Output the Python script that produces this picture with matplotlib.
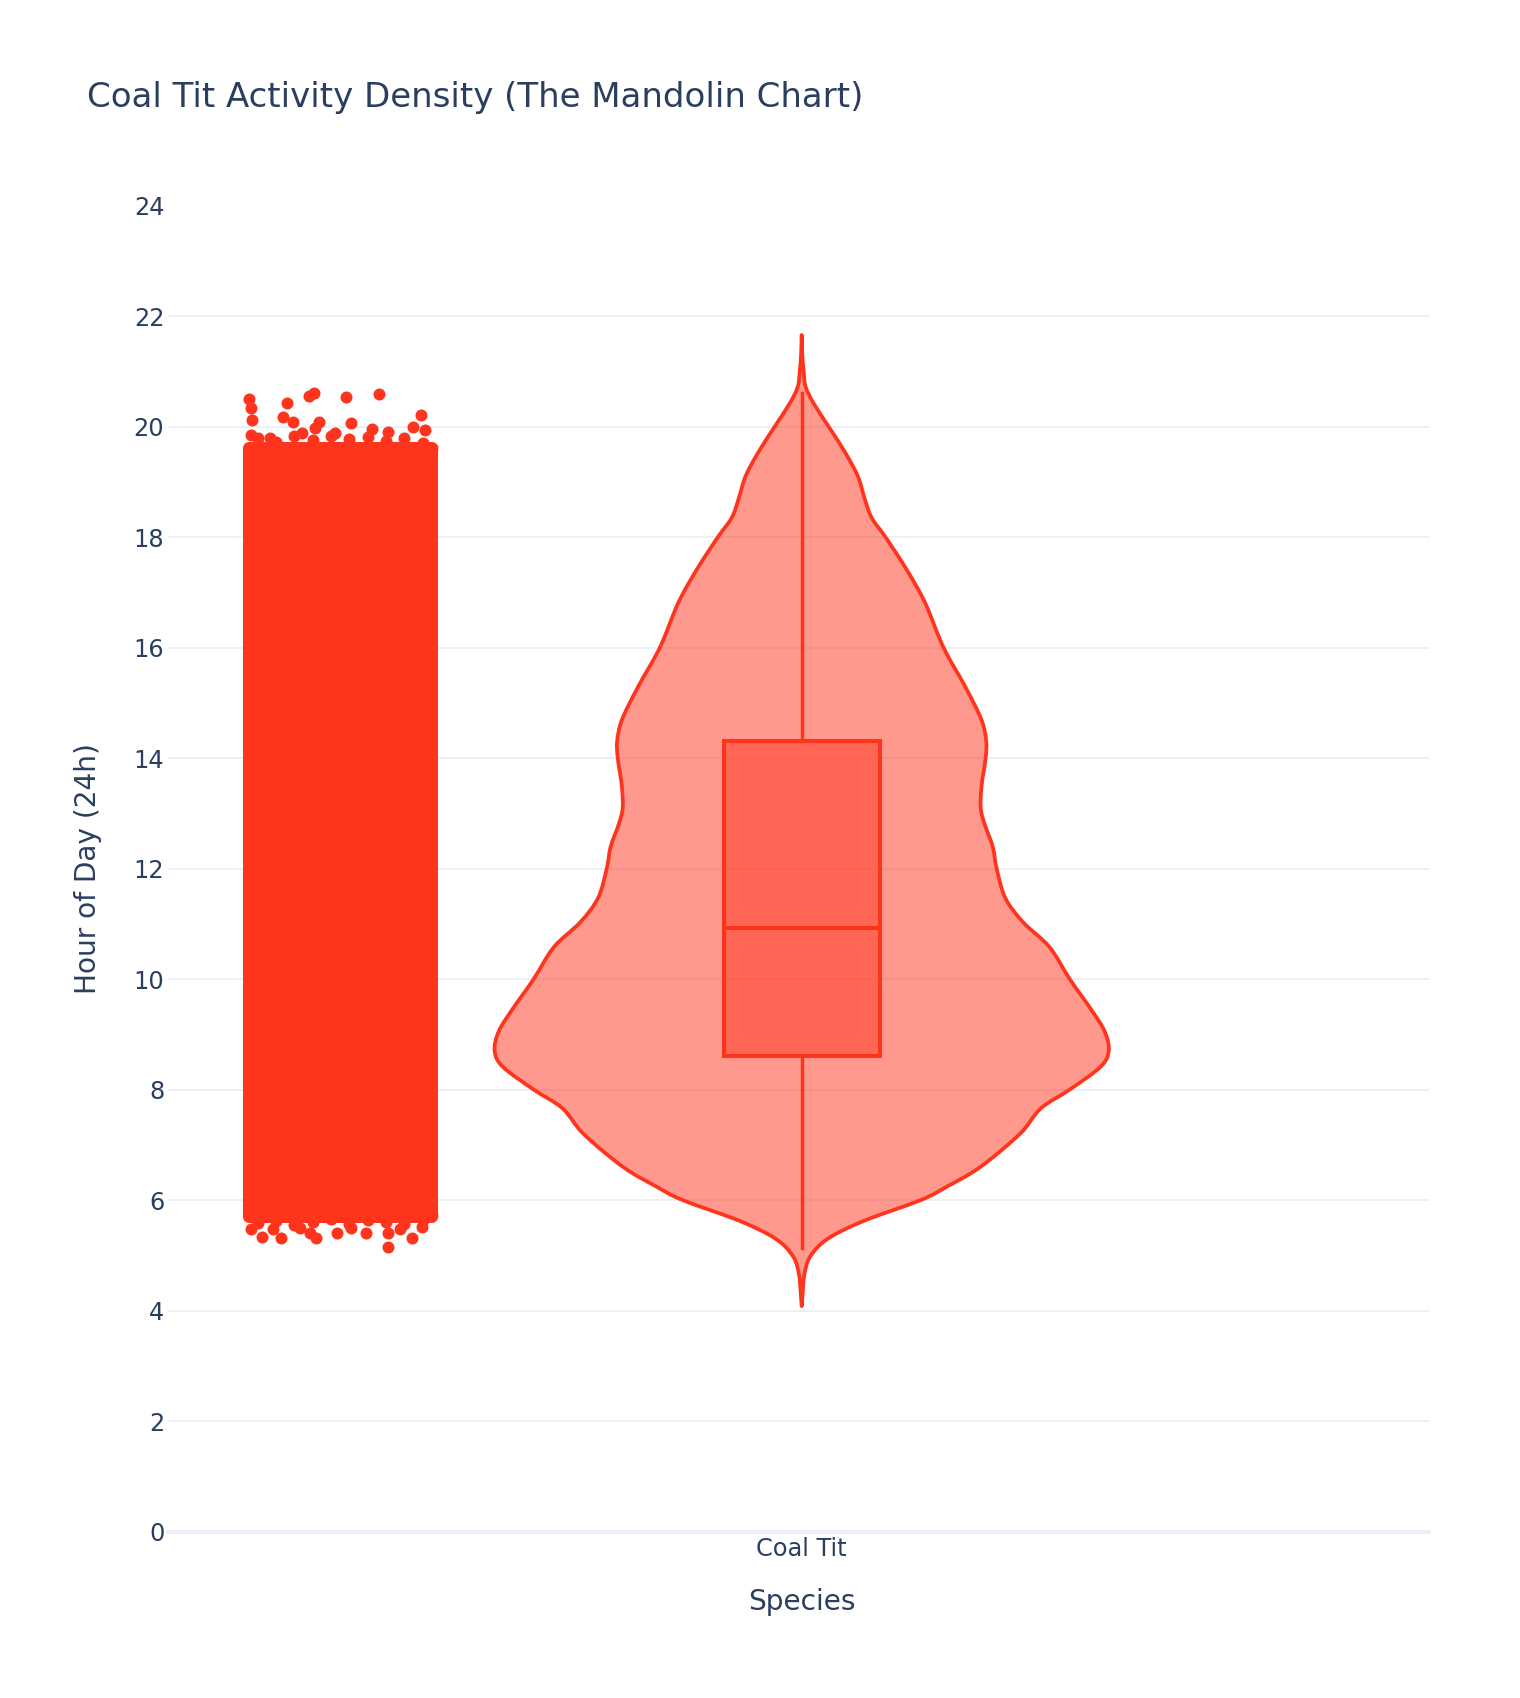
import numpy as np
import matplotlib
matplotlib.use("Agg")
import matplotlib.pyplot as plt
from matplotlib.patches import Rectangle, PathPatch
from matplotlib.path import Path

# ---------------- data ----------------
species = ["Coal Tit"]
y_ticks = [0, 2, 4, 6, 8, 10, 12, 14, 16, 18, 20, 22, 24]

# violin (KDE) profile: hour -> relative density (max = 1)
violin_hours = [4.08, 4.30, 4.66, 4.98, 5.30, 5.62, 6.00, 6.24, 6.60, 7.20, 7.66, 8.00,
                8.41, 8.70, 9.05, 9.43, 10.00, 10.58, 11.03, 11.47, 12.00, 12.40,
                12.80, 13.10, 13.50, 14.00, 14.31, 14.70, 15.30, 16.00, 16.81, 17.41,
                18.00, 18.35, 18.70, 19.10, 19.52, 20.00, 20.42, 20.72, 21.02, 21.30, 21.66]
violin_density = [0.000, 0.003, 0.009, 0.028, 0.085, 0.201, 0.388, 0.472, 0.582, 0.711,
                  0.779, 0.873, 0.973, 1.000, 0.987, 0.945, 0.873, 0.807, 0.721, 0.663,
                  0.635, 0.622, 0.596, 0.583, 0.586, 0.599, 0.601, 0.585, 0.532, 0.462,
                  0.402, 0.342, 0.273, 0.228, 0.205, 0.183, 0.143, 0.088, 0.039, 0.013,
                  0.006, 0.002, 0.000]

# box statistics
q1, median, q3 = 8.60, 10.92, 14.31
whisker_low, whisker_high = 5.14, 20.61

# observations: dense core of the strip (hours) and the sparse fringe points
core_low, core_high = 5.70, 19.62
fringe_hours = [20.50, 20.33, 20.12, 20.42, 20.18, 20.56, 20.61, 20.53, 20.59, 20.22,
                20.07, 20.09, 20.09, 19.95, 19.99, 19.94, 19.89, 19.85, 19.79, 19.88,
                19.91, 19.97,
                19.80, 19.72, 19.83, 19.76, 19.84, 19.78, 19.82, 19.74, 19.80, 19.70, 19.62,
                5.15, 5.32, 5.34, 5.32, 5.32, 5.40, 5.41, 5.40, 5.47, 5.52, 5.49, 5.40,
                5.49, 5.47, 5.47, 5.73,
                5.58, 5.62, 5.55, 5.60, 5.66, 5.57, 5.63, 5.60, 5.56, 5.64]
fringe_jitter = [-1.00, -0.97, -0.96, -0.58, -0.62, -0.34, -0.29, 0.06, 0.42, 0.88,
                 0.12, -0.23, -0.52, 0.35, 0.79, 0.92, -0.06, -0.97, -0.77, -0.42,
                 0.52, -0.28,
                 -0.90, -0.70, -0.50, -0.30, -0.10, 0.10, 0.30, 0.50, 0.70, 0.90, 1.00,
                 0.52, 0.78, -0.85, -0.65, -0.26, -0.04, 0.28, 0.52, -0.97, 0.89, -0.44,
                 -0.33, 0.12, -0.73, 0.65, 1.00,
                 -0.90, -0.70, -0.50, -0.30, -0.10, 0.10, 0.30, 0.50, 0.70, 0.90]

# ---------------- style ----------------
LINE = "#FF341D"
FILL = (1.0, 0.204, 0.114, 0.5)
TEXT = "#2a3f5f"
GRID = "#EBF0F8"
FONT = ["DejaVu Sans"]
plt.rcParams["font.family"] = FONT

W, H = 1520, 1698
fig = plt.figure(figsize=(W / 100, H / 100), dpi=100)
ax_left, ax_right = 168.3, 1429.3
ax_top, ax_bot = 205.7, 1531.5
ax = fig.add_axes([ax_left / W, 1 - ax_bot / H, (ax_right - ax_left) / W, (ax_bot - ax_top) / H])

ax.set_xlim(-0.5046, 0.5)
ax.set_ylim(0, 24)
for s in ax.spines.values():
    s.set_visible(False)

px = 0.72  # points per pixel at dpi 100

# grid
for t in y_ticks:
    if 0 < t < 24:
        ax.axhline(t, color=GRID, lw=2 * px, zorder=0)
ax.axhline(0, color=GRID, lw=4 * px, zorder=0, clip_on=False)

# positions
xc = 0.0
violin_half = 0.2446
box_half = 0.0621
pts_center = -0.3676
pts_half = 0.0731


def smooth_side(xs, ys):
    """Bezier (Catmull-Rom) segments through the given points."""
    P = np.column_stack([xs, ys])
    n = len(P)
    verts, codes = [], []
    for i in range(n - 1):
        p0 = P[i - 1] if i > 0 else P[i]
        p1, p2 = P[i], P[i + 1]
        p3 = P[i + 2] if i + 2 < n else P[i + 1]
        c1 = p1 + (p2 - p0) / 6.0
        c2 = p2 - (p3 - p1) / 6.0
        verts += [c1, c2, p2]
        codes += [Path.CURVE4] * 3
    return verts, codes


# violin
vh = np.array(violin_hours)
vd = np.array(violin_density) * violin_half
lv, lc = smooth_side(xc - vd, vh)
rv, rc = smooth_side((xc + vd)[::-1], vh[::-1])
verts = [(xc - vd[0], vh[0])] + lv + rv + [(xc - vd[0], vh[0])]
codes = [Path.MOVETO] + lc + rc + [Path.CLOSEPOLY]
ax.add_patch(PathPatch(Path(verts, codes), facecolor=FILL, edgecolor=LINE, lw=2.7,
                       joinstyle="round", zorder=2))

# box
ax.add_patch(Rectangle((xc - box_half, q1), 2 * box_half, q3 - q1,
                       facecolor=FILL, edgecolor=LINE, lw=2.9, zorder=3))
ax.plot([xc - box_half, xc + box_half], [median, median], color=LINE, lw=2.9, zorder=4)
ax.plot([xc, xc], [whisker_low, q1], color=LINE, lw=2.5, zorder=3)
ax.plot([xc, xc], [q3, whisker_high], color=LINE, lw=2.5, zorder=3)

# points: dense core + fringe
msize = 12 * px
ax.fill_betweenx([core_low, core_high], pts_center - pts_half, pts_center + pts_half,
                 facecolor=LINE, edgecolor=LINE, lw=msize, joinstyle="round", zorder=2)
fx = pts_center + np.array(fringe_jitter) * pts_half
ax.scatter(fx, fringe_hours, s=msize ** 2, color=LINE, linewidths=0, zorder=2)

# ticks
ax.set_yticks(y_ticks)
ax.set_yticklabels([str(t) for t in y_ticks])
ax.set_xticks([xc])
ax.set_xticklabels(species)
ax.tick_params(axis="both", length=0, labelsize=24 * px, labelcolor=TEXT)
ax.tick_params(axis="y", pad=4 * px)
ax.tick_params(axis="x", pad=6 * px)

# titles
fig.text(86.6 / W, 1 - 106.7 / H, "Coal Tit Activity Density (The Mandolin Chart)",
         fontsize=34 * px, color=TEXT, ha="left", va="baseline")
fig.text(801.7 / W, 1 - 1602 / H, "Species", fontsize=28 * px, color=TEXT,
         ha="center", va="center")
fig.text(88.3 / W, 1 - ((ax_top + ax_bot) / 2) / H, "Hour of Day (24h)", fontsize=28 * px,
         color=TEXT, ha="center", va="center", rotation=90)

fig.savefig("out.png", dpi=100, facecolor="white")
